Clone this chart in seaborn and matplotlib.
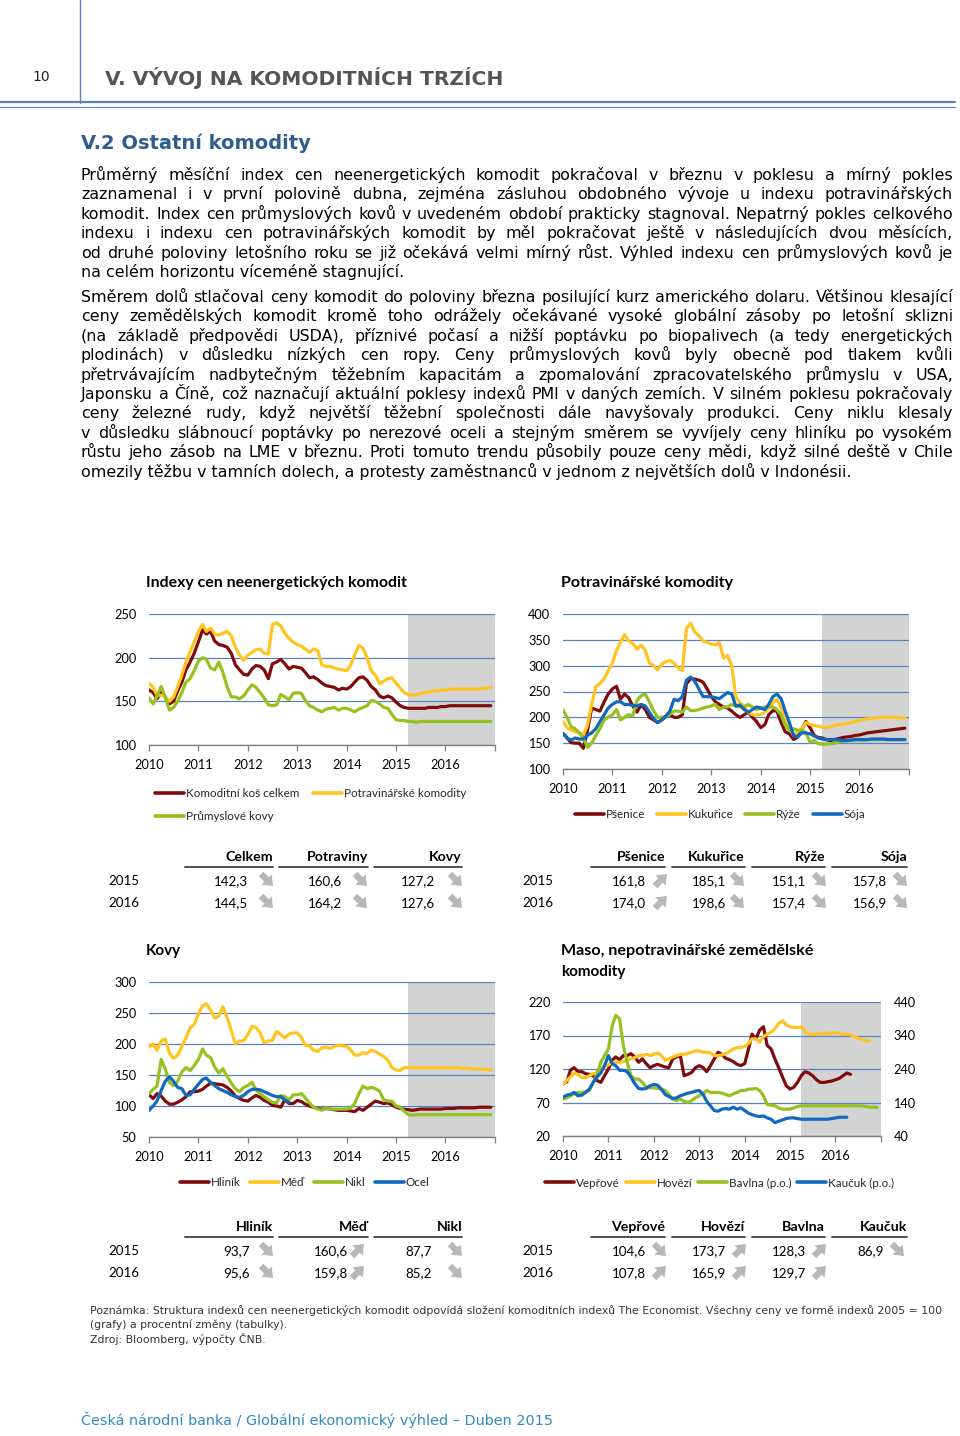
import matplotlib
matplotlib.use("Agg")
import matplotlib.pyplot as plt
from matplotlib.lines import Line2D
from matplotlib.patches import FancyArrowPatch
import pandas as pd
import seaborn as sns

# ================= page text =================
PAGE_NO = "10"
CHAPTER = "V. VÝVOJ NA KOMODITNÍCH TRZÍCH"
SECTION = "V.2 Ostatní komodity"
PARA1 = [
    "Průměrný měsíční index cen neenergetických komodit pokračoval v březnu v poklesu a mírný pokles",
    "zaznamenal i v první polovině dubna, zejména zásluhou obdobného vývoje u indexu potravinářských",
    "komodit. Index cen průmyslových kovů v uvedeném období prakticky stagnoval. Nepatrný pokles celkového",
    "indexu i indexu cen potravinářských komodit by měl pokračovat ještě v následujících dvou měsících,",
    "od druhé poloviny letošního roku se již očekává velmi mírný růst. Výhled indexu cen průmyslových kovů je",
    "na celém horizontu víceméně stagnující.",
]
PARA2 = [
    "Směrem dolů stlačoval ceny komodit do poloviny března posilující kurz amerického dolaru. Většinou klesající",
    "ceny zemědělských komodit kromě toho odrážely očekávané vysoké globální zásoby po letošní sklizni",
    "(na základě předpovědi USDA), příznivé počasí a nižší poptávku po biopalivech (a tedy energetických",
    "plodinách) v důsledku nízkých cen ropy. Ceny průmyslových kovů byly obecně pod tlakem kvůli",
    "přetrvávajícím nadbytečným těžebním kapacitám a zpomalování zpracovatelského průmyslu v USA,",
    "Japonsku a Číně, což naznačují aktuální poklesy indexů PMI v daných zemích. V silném poklesu pokračovaly",
    "ceny železné rudy, když největší těžební společnosti dále navyšovaly produkci. Ceny niklu klesaly",
    "v důsledku slábnoucí poptávky po nerezové oceli a stejným směrem se vyvíjely ceny hliníku po vysokém",
    "růstu jeho zásob na LME v březnu. Proti tomuto trendu působily pouze ceny mědi, když silné deště v Chile",
    "omezily těžbu v tamních dolech, a protesty zaměstnanců v jednom z největších dolů v Indonésii.",
]
NOTE = [
    "Poznámka: Struktura indexů cen neenergetických komodit odpovídá složení komoditních indexů The Economist. Všechny ceny ve formě indexů 2005 = 100",
    "(grafy) a procentní změny (tabulky).",
    "Zdroj: Bloomberg, výpočty ČNB.",
]
FOOTER = "Česká národní banka / Globální ekonomický výhled – Duben 2015"

# ================= chart data (monthly, from Jan 2010) =================
YEAR_LABELS = ["2010", "2011", "2012", "2013", "2014", "2015", "2016"]
FIRST_MONTH = "2010-01-01"
AXIS_END = "2017-01-01"
FORECAST_FROM = "2015-04-01"

# Chart 1 - Indexy cen neenergetických komodit
c1_title = "Indexy cen neenergetických komodit"
c1_names = ["Komoditní koš celkem", "Potravinářské komodity", "Průmyslové kovy"]
c1_celkem = [163, 160, 153, 160, 155, 147, 150, 162, 172, 186, 195, 205,
             218, 232, 227, 230, 219, 215, 214, 212, 205, 192, 186, 181,
             180, 187, 191, 190, 186, 176, 193, 195, 198, 193, 187, 190,
             189, 188, 183, 177, 178, 175, 171, 168, 167, 166, 163, 165,
             164, 167, 172, 177, 178, 174, 167, 163, 156, 154, 156, 154,
             149, 145, 143, 142, 142, 142, 142, 142, 143, 143, 143, 144,
             144, 145, 145, 145, 145, 145, 145, 145, 145, 145, 145, 145]
c1_potraviny = [171, 166, 157, 157, 155, 150, 155, 167, 180, 195, 207, 218,
                230, 238, 230, 234, 227, 226, 228, 230, 225, 212, 203, 197,
                203, 206, 209, 210, 205, 204, 238, 240, 236, 228, 222, 218,
                215, 213, 210, 206, 210, 208, 192, 190, 190, 188, 187, 186,
                185, 192, 203, 214, 211, 200, 185, 180, 170, 173, 176, 177,
                171, 165, 160, 158, 157, 158, 159, 160, 161, 162, 162, 163,
                163, 164, 164, 164, 164, 164, 164, 164, 164, 165, 165, 166]
c1_kovy = [154, 147, 156, 167, 155, 140, 143, 150, 160, 172, 176, 185,
           196, 200, 198, 188, 186, 195, 183, 167, 155, 155, 153, 156,
           163, 169, 166, 160, 154, 146, 145, 146, 158, 155, 152, 159,
           160, 159, 151, 145, 143, 140, 138, 141, 142, 143, 140, 142,
           142, 140, 138, 141, 143, 145, 151, 150, 147, 143, 142, 135,
           129, 128, 128, 127, 127, 126, 127, 127, 127, 127, 127, 127,
           127, 127, 127, 127, 127, 127, 127, 127, 127, 127, 127, 127]

# Chart 2 - Potravinářské komodity
c2_title = "Potravinářské komodity"
c2_names = ["Pšenice", "Kukuřice", "Rýže", "Sója"]
c2_psenice = [169, 160, 151, 150, 150, 140, 175, 218, 215, 212, 230, 245,
              255, 260, 235, 245, 238, 222, 210, 224, 215, 200, 195, 190,
              195, 202, 205, 200, 200, 205, 265, 275, 274, 272, 268, 255,
              240, 230, 225, 220, 218, 212, 205, 200, 205, 210, 200, 192,
              180, 186, 205, 213, 212, 190, 172, 168, 157, 162, 176, 192,
              180, 165, 161, 160, 157, 155, 157, 159, 161, 162, 163, 165,
              166, 168, 170, 171, 172, 173, 174, 175, 176, 177, 178, 179]
c2_kukurice = [192, 180, 176, 172, 170, 166, 185, 225, 260, 265, 275, 290,
               305, 330, 345, 360, 348, 343, 332, 340, 330, 305, 300, 292,
               303, 308, 310, 305, 295, 290, 372, 382, 365, 358, 348, 345,
               342, 340, 345, 315, 320, 300, 240, 228, 222, 210, 205, 205,
               205, 210, 218, 228, 235, 218, 198, 180, 165, 172, 178, 190,
               186, 184, 183, 181, 180, 182, 184, 186, 187, 188, 190, 192,
               194, 196, 197, 198, 199, 200, 200, 200, 200, 200, 199, 199]
c2_ryze = [214, 200, 182, 178, 170, 160, 142, 150, 165, 178, 195, 200,
           205, 215, 195, 200, 205, 203, 232, 242, 245, 230, 213, 200,
           200, 202, 206, 212, 212, 210, 220, 213, 213, 215, 218, 220,
           222, 225, 215, 220, 220, 225, 222, 220, 220, 225, 220, 215,
           218, 220, 220, 220, 215, 205, 185, 175, 178, 175, 175, 170,
           152, 155, 149, 148, 148, 149, 150, 152, 154, 155, 155, 156,
           156, 156, 157, 157, 157, 157, 157, 157, 157, 157, 157, 157]
c2_soja = [168, 160, 156, 160, 158, 158, 165, 170, 178, 192, 205, 218,
           225, 230, 230, 225, 225, 223, 222, 225, 222, 210, 198, 190,
           195, 203, 212, 235, 232, 240, 272, 278, 270, 255, 240, 240,
           240, 238, 236, 242, 248, 245, 222, 224, 215, 210, 215, 220,
           218, 215, 225, 240, 245, 236, 212, 190, 165, 162, 170, 170,
           168, 164, 160, 158, 157, 157, 157, 156, 155, 155, 156, 157,
           157, 157, 157, 158, 158, 158, 158, 157, 157, 157, 157, 157]

# Chart 3 - Kovy
c3_title = "Kovy"
c3_names = ["Hliník", "Měď", "Nikl", "Ocel"]
c3_hlinik = [118, 112, 120, 116, 108, 103, 103, 106, 110, 115, 123, 123,
             124, 127, 132, 137, 136, 135, 134, 130, 124, 116, 112, 109,
             108, 113, 117, 114, 109, 106, 101, 100, 98, 110, 104, 104,
             109, 107, 103, 100, 98, 96, 95, 96, 95, 94, 93, 93,
             93, 92, 91, 96, 93, 98, 103, 108, 106, 104, 105, 102,
             98, 96, 95, 94, 93, 94, 95, 95, 95, 95, 95, 95,
             96, 96, 96, 97, 97, 97, 97, 97, 98, 98, 98, 98]
c3_med = [195, 200, 190, 205, 208, 185, 177, 182, 196, 210, 226, 232,
          248, 262, 265, 255, 242, 245, 260, 243, 222, 200, 205, 205,
          215, 228, 227, 218, 202, 205, 206, 220, 215, 210, 216, 218,
          218, 210, 198, 197, 190, 188, 194, 195, 193, 196, 198, 197,
          196, 190, 182, 182, 186, 185, 190, 188, 184, 180, 174, 162,
          158, 157, 162, 162, 162, 162, 162, 162, 162, 162, 162, 162,
          162, 162, 162, 162, 161, 161, 160, 160, 160, 159, 159, 158]
c3_nikl = [120, 127, 132, 175, 160, 138, 133, 140, 155, 162, 157, 165,
           175, 192, 182, 178, 163, 153, 160, 148, 137, 128, 123, 130,
           133, 138, 126, 120, 115, 110, 106, 105, 117, 115, 110, 118,
           118, 120, 113, 105, 98, 95, 93, 97, 95, 95, 95, 95,
           95, 97, 104, 120, 132, 128, 130, 128, 124, 110, 108, 108,
           100, 98, 92, 86, 85, 86, 86, 86, 86, 86, 86, 86,
           86, 86, 86, 86, 86, 86, 86, 86, 86, 86, 86, 86]
c3_ocel = [93, 100, 108, 125, 140, 147, 140, 130, 128, 117, 118, 127,
           135, 143, 145, 138, 133, 128, 125, 122, 118, 115, 114, 117,
           123, 127, 127, 126, 123, 120, 117, 115, 115, 110, 106]

# Chart 4 - Maso, nepotravinářské zemědělské komodity (Bavlna, Kaučuk on right axis)
c4_title = ["Maso, nepotravinářské zemědělské", "komodity"]
c4_names_left = ["Vepřové", "Hovězí"]
c4_names_right = ["Bavlna (p.o.)", "Kaučuk (p.o.)"]
c4_veprove = [98, 101, 118, 122, 116, 116, 113, 112, 110, 103, 100, 110,
              120, 133, 138, 134, 140, 140, 143, 138, 130, 135, 128, 122,
              125, 127, 125, 123, 122, 135, 138, 140, 110, 112, 115, 122,
              125, 122, 116, 125, 135, 145, 142, 136, 134, 131, 127, 125,
              128, 150, 172, 165, 178, 183, 155, 150, 135, 122, 108, 95,
              90, 93, 100, 110, 116, 114, 110, 104, 100, 100, 101, 102,
              104, 106, 110, 114, 112]
c4_hovezi = [97, 103, 108, 114, 112, 107, 107, 110, 113, 115, 120, 124,
             126, 130, 130, 130, 131, 134, 135, 137, 140, 140, 142, 140,
             142, 144, 140, 133, 135, 138, 140, 142, 142, 143, 145, 147,
             147, 145, 145, 144, 140, 140, 141, 143, 146, 150, 152, 152,
             154, 158, 165, 165, 160, 168, 172, 175, 180, 188, 192, 186,
             183, 182, 182, 183, 177, 172, 172, 172, 172, 173, 173, 174,
             174, 173, 172, 172, 171, 168, 166, 164, 162, 162]
c4_bavlna = [150, 154, 160, 166, 170, 170, 172, 176, 200, 224, 260, 280,
             300, 370, 400, 390, 310, 260, 220, 210, 210, 200, 186, 184,
             184, 182, 180, 176, 164, 150, 146, 150, 144, 140, 146, 154,
             160, 166, 176, 170, 170, 170, 168, 164, 160, 166, 170, 176,
             176, 180, 180, 182, 176, 160, 134, 132, 130, 124, 120, 120,
             120, 124, 128, 130, 130, 130, 130, 130, 130, 130, 130, 130,
             130, 130, 130, 130, 130, 130, 130, 130, 128, 126, 126, 126]
c4_kaucuk = [156, 162, 164, 170, 160, 162, 170, 180, 200, 216, 228, 250,
             280, 256, 250, 236, 236, 232, 216, 196, 182, 180, 182, 190,
             194, 192, 180, 164, 158, 152, 154, 160, 164, 168, 170, 174,
             176, 164, 144, 130, 116, 114, 120, 122, 120, 126, 120, 124,
             116, 108, 104, 100, 98, 100, 94, 90, 80, 84, 88, 92,
             94, 94, 92, 90, 90, 90, 90, 90, 90, 90, 90, 92,
             94, 96, 96, 96]

# ================= table data =================
TAB_YEARS = ["2015", "2016"]
t1_head = ["Celkem", "Potraviny", "Kovy"]
t1_2015 = [142.3, 160.6, 127.2]
t1_2016 = [144.5, 164.2, 127.6]
t1_dir_2015 = ["down", "down", "down"]
t1_dir_2016 = ["down", "down", "down"]

t2_head = ["Pšenice", "Kukuřice", "Rýže", "Sója"]
t2_2015 = [161.8, 185.1, 151.1, 157.8]
t2_2016 = [174.0, 198.6, 157.4, 156.9]
t2_dir_2015 = ["up", "down", "down", "down"]
t2_dir_2016 = ["up", "down", "down", "down"]

t3_head = ["Hliník", "Měď", "Nikl"]
t3_2015 = [93.7, 160.6, 87.7]
t3_2016 = [95.6, 159.8, 85.2]
t3_dir_2015 = ["down", "up", "down"]
t3_dir_2016 = ["down", "up", "down"]

t4_head = ["Vepřové", "Hovězí", "Bavlna", "Kaučuk"]
t4_2015 = [104.6, 173.7, 128.3, 86.9]
t4_2016 = [107.8, 165.9, 129.7, None]
t4_dir_2015 = ["down", "up", "up", "down"]
t4_dir_2016 = ["up", "up", "up", None]

# ================= styling =================
W, H = 960, 1436
RED = "#7F0B0B"
YELLOW = "#FFC41F"
GREEN = "#96C11E"
BLUE = "#1069BF"
GRID = "#5A84BE"
SHADE = "#D3D3D3"
RULE = "#5B82B8"
ARROW = "#B8B8B8"
BODY = ["DejaVu Sans"]
CH = ["Lato", "DejaVu Sans"]

sns.set_theme(style="white")
plt.rcParams["font.family"] = CH
plt.rcParams["axes.unicode_minus"] = False

fig = plt.figure(figsize=(W / 100, H / 100), dpi=100)
fig.patch.set_facecolor("white")
R = fig.canvas.get_renderer()


def P(x, y):
    return (x / W, 1 - y / H)


def width_of(s, size, **kw):
    t = fig.text(0, 0, s, fontsize=size, **kw)
    w = t.get_window_extent(R).width
    t.remove()
    return w


def fit(s, target, base=10, **kw):
    return base * target / width_of(s, base, **kw)


def hline(x0, x1, y, lw, color):
    fig.add_artist(Line2D([x0 / W, x1 / W], [1 - y / H, 1 - y / H], lw=lw, color=color,
                          transform=fig.transFigure))


def vline(x, y0, y1, lw, color):
    fig.add_artist(Line2D([x / W, x / W], [1 - y0 / H, 1 - y1 / H], lw=lw, color=color,
                          transform=fig.transFigure))


# ---------- header ----------
vline(80, 0, 103, 1.0, RULE)
hline(0, 955, 102, 1.6, RULE)
hline(0, 955, 106.5, 0.8, RULE)
fig.text(*P(32, 77), PAGE_NO, fontsize=10, family=BODY, va="center", ha="left", color="#222222")
s_ch = fit(CHAPTER, 400, family=BODY, weight="bold")
fig.text(*P(105, 78), CHAPTER, fontsize=s_ch, family=BODY, weight="bold", va="center",
         ha="left", color="#555555")
s_sec = fit(SECTION, 230, family=BODY, weight="bold")
fig.text(*P(81, 143), SECTION, fontsize=s_sec, family=BODY, weight="bold", va="center",
         ha="left", color="#2F5E8E")

# ---------- justified body text ----------
s_body = fit(PARA1[-1], 321, family=BODY)


def justified(lines, x0, x1, y_first, dy, size):
    for i, line in enumerate(lines):
        yb = y_first + i * dy + 5
        if i == len(lines) - 1:
            fig.text(*P(x0, yb), line, fontsize=size, family=BODY, va="baseline", ha="left",
                     color="black")
            continue
        words = line.split(" ")
        ws = [width_of(w, size, family=BODY) for w in words]
        gap = (x1 - x0 - sum(ws)) / (len(words) - 1)
        x = x0
        for w, wd in zip(words, ws):
            fig.text(*P(x, yb), w, fontsize=size, family=BODY, va="baseline", ha="left",
                     color="black")
            x += wd + gap


justified(PARA1, 81, 953, 175, 19.4, s_body)
justified(PARA2, 81, 953, 297, 19.4, s_body)

# ---------- charts ----------
def add_ax(l, t, r, b):
    return fig.add_axes([l / W, 1 - b / H, (r - l) / W, (b - t) / H])


def draw_lines(ax, names, values, colors):
    frames = []
    for n, v in zip(names, values):
        frames.append(pd.DataFrame({
            "date": pd.date_range(FIRST_MONTH, periods=len(v), freq="MS"),
            "value": v, "series": n}))
    df = pd.concat(frames, ignore_index=True)
    sns.lineplot(data=df, x="date", y="value", hue="series", hue_order=names,
                 palette=colors, linewidth=2.3, legend=False, errorbar=None, ax=ax)
    ax.set_xlabel("")
    ax.set_ylabel("")


def style_ax(ax, ylim, yticks, xpad=6):
    start, end = pd.Timestamp(FIRST_MONTH), pd.Timestamp(AXIS_END)
    ax.axvspan(pd.Timestamp(FORECAST_FROM), end, color=SHADE, lw=0, zorder=0)
    ax.set_xlim(start, end)
    ax.set_ylim(*ylim)
    ax.set_yticks(yticks)
    ax.set_yticklabels([str(v) for v in yticks])
    ticks = [pd.Timestamp(y + "-01-01") for y in YEAR_LABELS] + [end]
    ax.set_xticks(ticks)
    ax.set_xticklabels(YEAR_LABELS + [""])
    ax.set_axisbelow(True)
    ax.yaxis.grid(True, color=GRID, lw=0.9)
    ax.xaxis.grid(False)
    for s in ["top", "right", "left"]:
        ax.spines[s].set_visible(False)
    ax.spines["bottom"].set_color("#7F7F7F")
    ax.spines["bottom"].set_linewidth(1.0)
    ax.tick_params(axis="x", length=4, width=0.9, color="#7F7F7F", direction="out",
                   pad=xpad, labelsize=9.2, labelcolor="black", bottom=True)
    ax.tick_params(axis="y", length=0, pad=9, labelsize=9.2, labelcolor="black")
    ax.patch.set_alpha(0)


def legend(ax, names, colors, x, y, ncol, spacing, order=None):
    hs = [Line2D([], [], color=c, lw=2.6) for c in colors]
    labs = list(names)
    if order is not None:
        hs = [hs[i] for i in order]
        labs = [labs[i] for i in order]
    ax.legend(hs, labs, loc="center left", bbox_to_anchor=P(x, y),
              bbox_transform=fig.transFigure, ncol=ncol, frameon=False, fontsize=8.4,
              handlelength=2.5, handletextpad=0.15, columnspacing=spacing, borderpad=0,
              borderaxespad=0, labelspacing=1.0)


def title(x, y, s, target=None):
    size = 11 if target is None else fit(s, target, weight="bold")
    fig.text(*P(x, y), s, fontsize=size, weight="bold", va="center", ha="left",
             color="black")


# Chart 1
ax1 = add_ax(149, 614, 495, 745)
draw_lines(ax1, c1_names, [c1_celkem, c1_potraviny, c1_kovy], [RED, YELLOW, GREEN])
style_ax(ax1, (100, 250), [100, 150, 200, 250])
title(146, 583, c1_title, 263)
legend(ax1, c1_names, [RED, YELLOW, GREEN], 155, 805, 2, 1.2, order=[0, 2, 1])

# Chart 2
ax2 = add_ax(563, 614, 909, 769)
draw_lines(ax2, c2_names, [c2_psenice, c2_kukurice, c2_ryze, c2_soja],
           [RED, YELLOW, GREEN, BLUE])
style_ax(ax2, (100, 400), [100, 150, 200, 250, 300, 350, 400])
title(561, 583, c2_title, 172)
legend(ax2, c2_names, [RED, YELLOW, GREEN, BLUE], 575, 815, 4, 1.0)

# Chart 3
ax3 = add_ax(149, 982, 495, 1137)
draw_lines(ax3, c3_names, [c3_hlinik, c3_med, c3_nikl, c3_ocel],
           [RED, YELLOW, GREEN, BLUE])
style_ax(ax3, (50, 300), [50, 100, 150, 200, 250, 300])
title(146, 951, c3_title)
legend(ax3, c3_names, [RED, YELLOW, GREEN, BLUE], 180, 1183, 4, 0.8)

# Chart 4 (dual axis)
ax4 = add_ax(563, 1002, 881, 1136)
draw_lines(ax4, c4_names_left, [c4_veprove, c4_hovezi], [RED, YELLOW])
style_ax(ax4, (20, 220), [20, 70, 120, 170, 220])
ax4r = ax4.twinx()
draw_lines(ax4r, c4_names_right, [c4_bavlna, c4_kaucuk], [GREEN, BLUE])
ax4r.set_ylim(40, 440)
ax4r.set_yticks([40, 140, 240, 340, 440])
ax4r.grid(False)
for s in ["top", "right", "left", "bottom"]:
    ax4r.spines[s].set_visible(False)
ax4r.tick_params(axis="y", length=0, pad=9, labelsize=9.2, labelcolor="black")
ax4r.set_xlim(pd.Timestamp(FIRST_MONTH), pd.Timestamp(AXIS_END))
title(561, 951, c4_title[0], 253)
title(561, 972, c4_title[1])
legend(ax4r, c4_names_left + c4_names_right, [RED, YELLOW, GREEN, BLUE], 545, 1183, 4, 0.5)

# ---------- tables ----------
def fmt(v):
    return f"{v:.1f}".replace(".", ",")


def arrow_icon(x, y, d):
    if d == "down":
        a, b = (x - 6, y - 6), (x + 6, y + 6)
    else:
        a, b = (x - 6, y + 6), (x + 6, y - 6)
    fig.add_artist(FancyArrowPatch(P(*a), P(*b), transform=fig.transFigure,
                                   arrowstyle="simple,head_width=0.95,head_length=0.6,tail_width=0.42",
                                   mutation_scale=11, color=ARROW, lw=0,
                                   shrinkA=0, shrinkB=0))


def table(heads, head_right, under, head_y, under_y, label_x, row_y, rows, dirs,
          val_right, arrow_x):
    for h, hr, (u0, u1) in zip(heads, head_right, under):
        fig.text(*P(hr, head_y), h, fontsize=10.2, weight="bold", ha="right", va="center",
                 color="black")
        hline(u0, u1, under_y, 1.3, "#404040")
    for yr, ry, vals, ds in zip(TAB_YEARS, row_y, rows, dirs):
        fig.text(*P(label_x, ry), yr, fontsize=9.6, ha="left", va="center", color="black")
        for v, d, vr, axx in zip(vals, ds, val_right, arrow_x):
            if v is None:
                continue
            fig.text(*P(vr, ry), fmt(v), fontsize=9.6, ha="right", va="center",
                     color="black")
            arrow_icon(axx, ry - 1, d)


table(t1_head, [273, 368, 462], [(185, 273), (279, 368), (374, 462)], 857, 866.5, 108,
      [881, 903], [t1_2015, t1_2016], [t1_dir_2015, t1_dir_2016], [248, 342, 435],
      [267, 361, 456])
table(t2_head, [665, 745, 825, 907], [(591, 665), (672, 745), (752, 825), (832, 907)],
      857, 866.5, 522, [881, 903], [t2_2015, t2_2016], [t2_dir_2015, t2_dir_2016],
      [646, 726, 806, 887], [661, 738, 820, 901])
table(t3_head, [273, 368, 462], [(185, 273), (279, 368), (374, 462)], 1227, 1236.5, 108,
      [1251, 1273], [t3_2015, t3_2016], [t3_dir_2015, t3_dir_2016], [250, 348, 432],
      [267, 358, 456])
table(t4_head, [665, 745, 825, 907], [(591, 665), (672, 745), (752, 825), (832, 907)],
      1227, 1236.5, 522, [1251, 1273], [t4_2015, t4_2016], [t4_dir_2015, t4_dir_2016],
      [646, 726, 806, 884], [660, 740, 820, 898])

# ---------- note & footer ----------
NOTE_FONT = ["DejaVu Sans"]
s_note = fit(NOTE[0], 848, family=NOTE_FONT)
for i, line in enumerate(NOTE):
    fig.text(*P(90, 1310 + i * 14.6), line, fontsize=s_note, family=NOTE_FONT, ha="left",
             va="center", color="#333333")

s_foot = fit(FOOTER, 471, family=BODY)
fig.text(*P(81, 1420), FOOTER, fontsize=s_foot, family=BODY, ha="left", va="center",
         color="#2E8BC4")

fig.savefig("out.png", dpi=100, facecolor="white")
